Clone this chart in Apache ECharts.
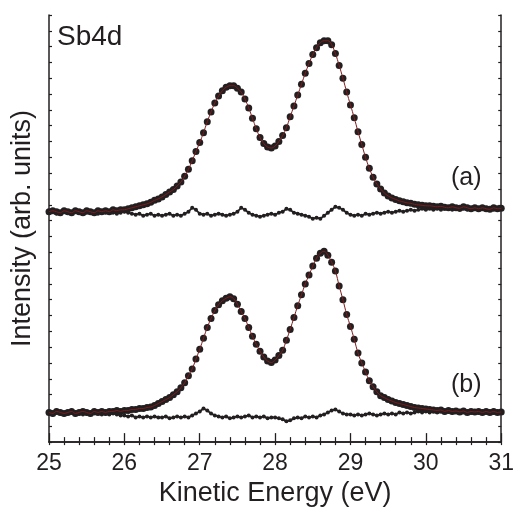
<!DOCTYPE html>
<html>
<head>
<meta charset="utf-8">
<script src="https://cdn.jsdelivr.net/npm/echarts@6/dist/echarts.min.js"></script>
<style>
  html, body { margin: 0; padding: 0; background: #fff; }
  #chart { width: 517px; height: 512px; }
</style>
</head>
<body>
<div id="chart"></div>
<script>
// Sb 4d photoemission spectra, sampled every 0.05 eV from 25 to 31 eV.
// Intensities are in arbitrary units; spectrum (a) is stacked above (b).
const E_START = 25;
const E_STEP = 0.05;

const xTicks = [25, 26, 27, 28, 29, 30, 31];

// measured spectrum (a)
const spectrumA = [
  233, 234, 233, 232, 234, 233, 232, 234, 233, 232,
  234, 233, 232, 234, 233, 234, 233, 235, 234, 235,
  235, 236, 237, 238, 239, 240, 241, 242.5, 244.5, 246,
  248, 250.5, 253, 255.5, 259, 263, 269, 276, 284.5, 294,
  303, 313, 324, 334, 343, 350, 355.5, 359, 360.5, 360.5,
  358, 354, 347, 338, 327.5, 317, 308, 302, 298.5, 297.5,
  299.5, 304, 310, 318, 329, 340, 351, 362, 373, 383,
  392, 399, 404, 406, 406, 402, 393, 381, 368, 354,
  341, 328, 314, 301, 288, 277, 268, 261, 256, 252,
  249, 247, 245.5, 244, 243, 242, 241.5, 240.5, 240, 239.5,
  239, 239, 238.5, 238, 238.5, 237.5, 237, 238, 237, 236.5,
  238, 237, 236, 237, 236, 237, 236, 235.5, 237, 236,
  236.5
];

// residual of the fit to (a)
const residualA = [
  232, 233, 231, 232, 233, 232, 231, 233, 232, 231,
  232, 233, 232, 231, 233, 232, 233, 232, 231, 232,
  233, 232, 231, 230, 231, 229, 230, 231, 229, 230,
  229, 230, 231, 229, 230, 229, 231, 233, 237, 235,
  231, 230, 231, 229, 230, 231, 230, 229, 230, 231,
  233, 237, 235, 232, 230, 229, 228, 229, 230, 231,
  230, 232, 233, 236, 235, 232, 231, 230, 229, 228,
  226, 227, 226, 229, 232, 235, 238, 237, 235, 232,
  230, 229, 230, 229, 231, 230, 231, 232, 231, 232,
  233, 232, 233, 234, 233, 234, 235, 234, 235, 236,
  235, 236, 235, 236, 235, 236, 237, 235, 236, 235,
  236, 235, 236, 237, 235, 236, 237, 236, 235, 236,
  236
];

// measured spectrum (b)
const spectrumB = [
  30, 29, 31, 30, 29, 30, 31, 29, 30, 31,
  30, 29, 31, 30, 31, 30, 31, 31, 32, 31,
  32, 32, 33, 33, 34, 34, 35, 35.5, 37, 39,
  41, 43, 45, 48, 51, 55, 60, 67, 74, 84,
  94, 105, 116, 125, 133, 139, 143, 145.5, 147, 145,
  139.5, 132, 125, 116, 107, 99, 92, 86, 82, 80.5,
  83, 87.5, 93, 103, 114, 126, 138, 149, 160, 169,
  178, 186, 191, 193, 189, 182, 173, 158, 144, 129,
  117, 104, 90, 80, 71, 62, 56, 51, 47, 45,
  43, 41.5, 40, 39, 38, 37, 36, 35, 34.5, 34,
  33.5, 33, 32.5, 32, 32.5, 31, 32, 31, 31.5, 30.5,
  31.5, 30, 31, 30.5, 31, 30, 31, 30, 31, 30,
  30.5
];

// residual of the fit to (b)
const residualB = [
  29, 28, 30, 29, 28, 29, 30, 28, 29, 28,
  29, 28, 29, 30, 28, 29, 28, 29, 28, 27,
  27, 26, 27, 25, 26, 25, 26, 25, 26, 25,
  25, 26, 24, 25, 26, 25, 26, 25, 27, 29,
  31, 34, 32, 29, 27, 26, 25, 26, 24, 25,
  26, 25, 26, 27, 25, 26, 25, 26, 24, 25,
  25, 24, 23, 21, 22, 24, 25, 24, 26, 25,
  26, 25, 27, 28, 30, 32, 33, 31, 29, 28,
  28, 27, 28, 27, 28, 29, 28, 27, 28, 29,
  28, 29, 28, 30, 29, 30, 29, 30, 31, 30,
  31, 30, 31, 30, 31, 30, 31, 30, 31, 30,
  31, 30, 30, 31, 30, 31, 30, 31, 30, 31,
  30
];

const INK = '#231f20';
const FIT = '#7d1c1c';
const FONT = '"Liberation Sans", Arial, Helvetica, sans-serif';

function pairs(values) {
  return values.map((v, i) => [+(E_START + i * E_STEP).toFixed(2), v]);
}

function dots(values, size) {
  return {
    type: 'scatter',
    data: pairs(values),
    symbol: 'circle',
    symbolSize: size,
    itemStyle: { color: INK, opacity: 1 },
    z: 2,
    silent: true
  };
}

// residuals: small dots joined into a wiggly chain
function residual(values) {
  return {
    type: 'line',
    data: pairs(values),
    symbol: 'circle',
    symbolSize: 4,
    showSymbol: true,
    itemStyle: { color: INK, borderWidth: 0, opacity: 1 },
    lineStyle: { color: INK, width: 1.8 },
    z: 2,
    silent: true
  };
}

function fitLine(values) {
  return {
    type: 'line',
    data: pairs(values),
    showSymbol: false,
    smooth: 0.4,
    lineStyle: { color: FIT, width: 1 },
    z: 3,
    silent: true
  };
}

const axisLine = { show: true, lineStyle: { color: INK, width: 1.5 } };

const chart = echarts.init(document.getElementById('chart'), null, { renderer: 'canvas' });
chart.setOption({
  animation: false,
  backgroundColor: '#ffffff',
  grid: { left: 49, right: 12, top: 15, bottom: 64 },
  xAxis: [
    {
      type: 'value', position: 'bottom',
      min: xTicks[0], max: xTicks[xTicks.length - 1], interval: 1,
      axisLine,
      axisTick: { show: true, inside: true, length: 9, lineStyle: { color: INK, width: 1.3 } },
      minorTick: { show: true, splitNumber: 5, length: 5, lineStyle: { color: INK, width: 1.2 } },
      splitLine: { show: false },
      axisLabel: {
        show: true, margin: 10, color: INK, fontSize: 23, fontFamily: FONT,
        formatter: v => (xTicks.includes(v) ? String(v) : '')
      },
      name: 'Kinetic Energy (eV)',
      nameLocation: 'middle',
      nameGap: 30,
      nameTextStyle: { color: INK, fontSize: 27, fontFamily: FONT }
    },
    {
      type: 'value', position: 'top',
      min: xTicks[0], max: xTicks[xTicks.length - 1], interval: 1,
      axisLine,
      axisTick: { show: true, inside: true, length: 3, lineStyle: { color: INK, width: 1.2 } },
      minorTick: { show: true, splitNumber: 5, length: 3, lineStyle: { color: INK, width: 1.2 } },
      splitLine: { show: false },
      axisLabel: { show: false }
    }
  ],
  yAxis: [
    {
      type: 'value', position: 'left',
      min: 0, max: 432, interval: 16,
      axisLine,
      axisTick: { show: true, inside: true, length: 3, lineStyle: { color: INK, width: 1.2 } },
      splitLine: { show: false },
      axisLabel: { show: false },
      name: 'Intensity (arb. units)',
      nameLocation: 'middle',
      nameGap: 13,
      nameTextStyle: { color: INK, fontSize: 27, fontFamily: FONT }
    },
    {
      type: 'value', position: 'right',
      min: 0, max: 432, interval: 16,
      axisLine,
      axisTick: { show: true, inside: true, length: 3, lineStyle: { color: INK, width: 1.2 } },
      splitLine: { show: false },
      axisLabel: { show: false }
    }
  ],
  series: [
    residual(residualA),
    dots(spectrumA, 7),
    fitLine(spectrumA),
    residual(residualB),
    dots(spectrumB, 7),
    fitLine(spectrumB)
  ],
  graphic: [
    {
      type: 'text', left: 57, top: 23,
      style: { text: 'Sb4d', fill: INK, fontSize: 28, fontFamily: FONT }
    },
    {
      type: 'text', left: 451, top: 166,
      style: { text: '(a)', fill: INK, fontSize: 25, fontFamily: FONT }
    },
    {
      type: 'text', left: 451, top: 373,
      style: { text: '(b)', fill: INK, fontSize: 25, fontFamily: FONT }
    }
  ]
});
</script>
</body>
</html>
